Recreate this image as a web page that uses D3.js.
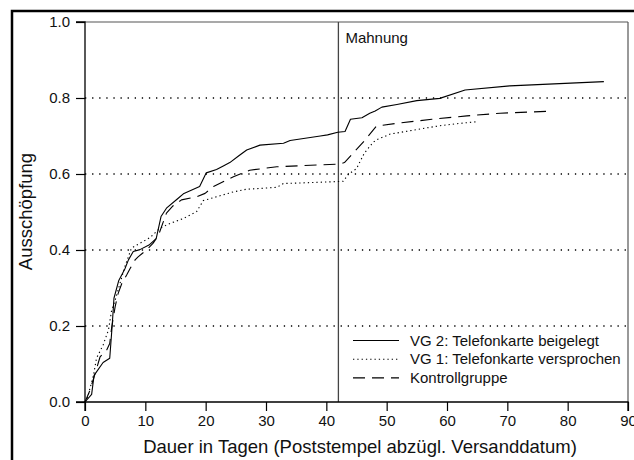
<!DOCTYPE html>
<html>
<head>
<meta charset="utf-8">
<script src="https://cdn.jsdelivr.net/npm/d3@7"></script>
<style>
  html, body { margin: 0; padding: 0; background: #fff; }
  svg { display: block; font-family: "Liberation Sans", Arial, Helvetica, sans-serif; }
</style>
</head>
<body>
<svg id="chart" width="634" height="460"></svg>
<script>
// ---- data ----
const xTicks = [0, 10, 20, 30, 40, 50, 60, 70, 80, 90];
const yTicks = [0.0, 0.2, 0.4, 0.6, 0.8, 1.0];
const gridValues = [0.2, 0.4, 0.6, 0.8];
const mahnungDay = 42;
const seriesNames = ["VG 2: Telefonkarte beigelegt", "VG 1: Telefonkarte versprochen", "Kontrollgruppe"];

// VG 2: Telefonkarte beigelegt  [Tag, Ausschöpfung]
const vg2 = [[0,0],[1.1,0.02],[1.5,0.07],[3.0,0.104],[4.1,0.115],[4.5,0.2],[4.8,0.273],[5.6,0.32],[6.6,0.35],[7.2,0.374],[8.0,0.396],[9.1,0.401],[10.6,0.413],[11.8,0.43],[12.6,0.488],[13.5,0.51],[15.2,0.533],[16.4,0.549],[19.0,0.567],[20.1,0.603],[21.8,0.612],[23.0,0.622],[24.0,0.63],[25.5,0.648],[26.8,0.663],[29.0,0.676],[32.9,0.681],[34.0,0.688],[39.0,0.70],[40.2,0.703],[41.9,0.71],[43.1,0.712],[44.0,0.744],[45.9,0.748],[47.2,0.76],[48.1,0.766],[49.2,0.776],[51.7,0.783],[55.0,0.793],[58.8,0.799],[63.0,0.821],[70.4,0.832],[86.0,0.843]];

// VG 1: Telefonkarte versprochen
const vg1 = [[0,0],[0.3,0.005],[1.4,0.07],[1.9,0.115],[3.0,0.15],[3.9,0.19],[4.4,0.24],[5.0,0.268],[5.8,0.312],[6.6,0.356],[7.7,0.405],[8.6,0.413],[10.8,0.433],[12.4,0.457],[14.1,0.47],[16.3,0.483],[18.5,0.501],[19.6,0.530],[21.8,0.54],[24.6,0.553],[26.8,0.56],[29.0,0.562],[31.8,0.565],[32.9,0.575],[36.7,0.577],[41.7,0.58],[42.8,0.581],[43.7,0.6],[45.0,0.614],[46.3,0.655],[47.8,0.684],[48.6,0.692],[50.6,0.705],[55.0,0.717],[58.8,0.727],[62.0,0.733],[65.2,0.738]];

// Kontrollgruppe
const kontroll = [[0,0],[0.8,0.03],[1.7,0.076],[2.5,0.119],[3.6,0.137],[4.1,0.154],[4.4,0.194],[5.0,0.251],[5.5,0.286],[6.1,0.312],[6.9,0.334],[7.5,0.352],[8.3,0.374],[8.8,0.382],[10.2,0.40],[11.3,0.418],[12.2,0.44],[13.5,0.497],[14.5,0.515],[16.0,0.532],[18.5,0.54],[19.9,0.549],[21.3,0.567],[24.6,0.593],[27.3,0.61],[31.8,0.619],[39.0,0.624],[42.2,0.626],[43.0,0.63],[46.4,0.689],[48.3,0.726],[52.0,0.734],[57.5,0.744],[63.3,0.753],[68.8,0.76],[76.8,0.765]];

// ---- layout ----
const svg = d3.select("#chart");
const W = 634, H = 460;
const mLeft = 85, mRight = 628, mTop = 22, mBottom = 402;

const x = d3.scaleLinear().domain([0, 90]).range([mLeft, mRight]);
const y = d3.scaleLinear().domain([0, 1]).range([mBottom, mTop]);

// outer border
svg.append("rect")
  .attr("x", 12).attr("y", 11)
  .attr("width", W + 20).attr("height", H + 20)
  .attr("fill", "none").attr("stroke", "#000").attr("stroke-width", 2.5);

// grid lines (dotted)
svg.append("g").selectAll("line").data(gridValues).join("line")
  .attr("x1", mLeft).attr("x2", mRight)
  .attr("y1", d => y(d)).attr("y2", d => y(d))
  .attr("stroke", "#000").attr("stroke-width", 1.3)
  .attr("stroke-dasharray", "1.3,5.8");

// top & right frame
svg.append("line").attr("x1", mLeft).attr("x2", mRight).attr("y1", y(1)).attr("y2", y(1))
  .attr("stroke", "#555").attr("stroke-width", 1.2);
svg.append("line").attr("x1", mRight).attr("x2", mRight).attr("y1", y(1)).attr("y2", y(0))
  .attr("stroke", "#555").attr("stroke-width", 1.2);

// Mahnung line
svg.append("line").attr("x1", x(mahnungDay)).attr("x2", x(mahnungDay))
  .attr("y1", y(1)).attr("y2", y(0))
  .attr("stroke", "#444").attr("stroke-width", 1.3);
svg.append("text").attr("x", x(mahnungDay) + 7).attr("y", 42.5)
  .attr("font-size", 15).attr("fill", "#111").text("Mahnung");

// axes
const xAxis = d3.axisBottom(x).tickValues(xTicks).tickSize(9).tickPadding(4).tickFormat(d3.format("d"));
const yAxis = d3.axisLeft(y).tickValues(yTicks).tickSize(9).tickPadding(6).tickFormat(d3.format(".1f"));

const gx = svg.append("g").attr("transform", `translate(0,${mBottom})`).call(xAxis);
const gy = svg.append("g").attr("transform", `translate(${mLeft},0)`).call(yAxis);
[gx, gy].forEach(g => {
  g.select(".domain").attr("stroke", "#000").attr("stroke-width", 1.3);
  g.selectAll(".tick line").attr("stroke", "#000").attr("stroke-width", 1.2);
  g.selectAll(".tick text").attr("font-size", 15).attr("fill", "#111")
    .attr("font-family", "'Liberation Sans', Arial, sans-serif");
});
gy.select(".domain").attr("d", `M-9,${y(1)}H0V${y(0)}H-9`);
gx.select(".domain").attr("d", `M${mLeft},9V0H${mRight}V9`);

// axis titles
svg.append("text").attr("x", 360).attr("y", 453).attr("text-anchor", "middle")
  .attr("font-size", 18.5).attr("fill", "#111")
  .text("Dauer in Tagen (Poststempel abzügl. Versanddatum)");
svg.append("text").attr("transform", `translate(31.5,211.5) rotate(-90)`)
  .attr("text-anchor", "middle").attr("font-size", 18.5).attr("fill", "#111")
  .text("Ausschöpfung");

// curves
const line = d3.line().x(d => x(d[0])).y(d => y(d[1]));
const styles = [
  { data: vg2, dash: null },
  { data: vg1, dash: "1.3,3" },
  { data: kontroll, dash: "12,7" }
];
styles.forEach(s => {
  svg.append("path").datum(s.data).attr("d", line)
    .attr("fill", "none").attr("stroke", "#000").attr("stroke-width", 1.1)
    .attr("stroke-linejoin", "round")
    .attr("stroke-dasharray", s.dash);
});

// legend
const lg = svg.append("g");
seriesNames.forEach((name, i) => {
  const ly = 340.5 + i * 18.7;
  lg.append("line").attr("x1", 353).attr("x2", 399).attr("y1", ly).attr("y2", ly)
    .attr("stroke", "#000").attr("stroke-width", 1.1)
    .attr("stroke-dasharray", styles[i].dash);
  lg.append("text").attr("x", 410).attr("y", ly).attr("dy", "0.35em")
    .attr("font-size", 15).attr("fill", "#111").text(name);
});
</script>
</body>
</html>
